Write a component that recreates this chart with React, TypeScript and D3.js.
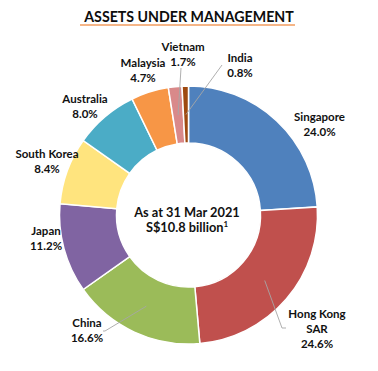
import React from "react";
import * as d3 from "d3";

const categories = ["Singapore", "Hong Kong SAR", "China", "Japan", "South Korea", "Australia", "Malaysia", "Vietnam", "India"];
const values = [24.0, 24.6, 16.6, 11.2, 8.4, 8.0, 4.7, 1.7, 0.8];
const labelLines = [["Singapore"], ["Hong Kong", "SAR"], ["China"], ["Japan"], ["South Korea"], ["Australia"], ["Malaysia"], ["Vietnam"], ["India"]];
const colors = ["#4F81BD", "#C0504D", "#9BBB59", "#8064A2", "#FFE47E", "#4BACC6", "#F79646", "#D9898A", "#9E4A10"];
const title = "ASSETS UNDER MANAGEMENT";
const centerLines = ["As at 31 Mar 2021", "S$10.8 billion"];

// label anchor offsets (relative to chart centre), layout only
const labelPos: [number, number][] = [
  [131, -94], [128.5, 103], [-101.5, 112], [-142.5, 20], [-141.5, -57], [-103.5, -112], [-45.5, -148], [-5.5, -164], [51.5, -153],
];
// leader line label-side points (relative to centre), null = no leader
const leaderPts: ([number, number][] | null)[] = [
  null,
  [[93.5, 113], [97.5, 113]],
  [[-83.5, 116], [-85.5, 116]],
  null, null, null, null,
  [[-7.5, -147]],
  [[33.5, -150]],
];

const W = 378, H = 371;
const cx = 188.5, cy = 215;
const rOuter = 129, rInner = 72;

export default function App() {
  const pie = d3.pie<number>().sort(null).value((d) => d).startAngle(0).endAngle(2 * Math.PI);
  const arcs = pie(values);
  const arc = d3.arc<d3.PieArcDatum<number>>().innerRadius(rInner).outerRadius(rOuter);
  const font = "Lato, 'Open Sans', sans-serif";
  const lh = 14.8;
  return (
    <svg width={W} height={H} style={{ position: "absolute", left: 0, top: 0, background: "#fff" }} fontFamily={font}>
      <text x={189} y={21.5} textAnchor="middle" fontSize={14.2} fontWeight={700} fill="#0d0d0d">{title}</text>
      <line x1={80} x2={295} y1={25} y2={25} stroke="#F5B587" strokeWidth={1.8} />
      <g transform={`translate(${cx},${cy})`}>
        {arcs.map((a, i) => (
          <path key={categories[i]} d={arc(a) || ""} fill={colors[i]} stroke="#fff" strokeWidth={1.5} />
        ))}
        {arcs.map((a, i) => {
          const pts = leaderPts[i];
          if (!pts) return null;
          const c = arc.centroid(a);
          const all = [c, ...pts];
          return (
            <polyline key={"l" + i} points={all.map((p) => p.join(",")).join(" ")} fill="none" stroke="#A6A6A6" strokeWidth={0.9} />
          );
        })}
        {arcs.map((a, i) => {
          const [lx, ly] = labelPos[i];
          const lines = [...labelLines[i], `${values[i].toFixed(1)}%`];
          return (
            <text key={"t" + i} x={lx} y={ly} textAnchor="middle" fontSize={11.5} fontWeight={700} fill="#111">
              {lines.map((s, j) => (
                <tspan key={j} x={lx} y={ly + j * lh}>{s}</tspan>
              ))}
            </text>
          );
        })}
        <text x={-1.5} y={2} textAnchor="middle" fontSize={12.8} fontWeight={700} fill="#111">{centerLines[0]}</text>
        <text x={-1.5} y={17} textAnchor="middle" fontSize={12.8} fontWeight={700} fill="#111">
          {centerLines[1]}
          <tspan fontSize={8} dy={-5}>1</tspan>
        </text>
      </g>
    </svg>
  );
}
